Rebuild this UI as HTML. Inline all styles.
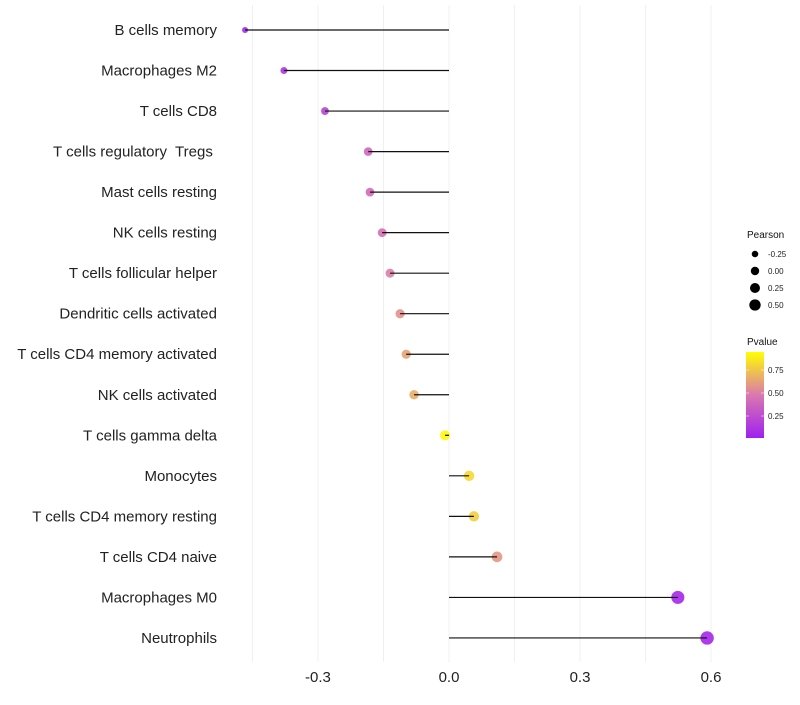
<!DOCTYPE html>
<html><head><meta charset="utf-8"><style>
body{margin:0;background:#fff;width:800px;height:700px;overflow:hidden;font-family:"Liberation Sans",sans-serif}
text{white-space:pre}
</style></head><body>
<svg id="chart" width="800" height="700" xmlns="http://www.w3.org/2000/svg"></svg>
<script>
const categories=["B cells memory","Macrophages M2","T cells CD8","T cells regulatory  Tregs ","Mast cells resting","NK cells resting","T cells follicular helper","Dendritic cells activated","T cells CD4 memory activated","NK cells activated","T cells gamma delta","Monocytes","T cells CD4 memory resting","T cells CD4 naive","Macrophages M0","Neutrophils"];
const pearson=[-0.467,-0.378,-0.284,-0.185,-0.181,-0.153,-0.135,-0.112,-0.098,-0.080,-0.009,0.046,0.057,0.110,0.524,0.591];
const pvalues=[0.05,0.12,0.2,0.4,0.42,0.46,0.52,0.6,0.66,0.7,0.98,0.86,0.82,0.62,0.04,0.04];
const xTicks=[-0.3,0.0,0.3,0.6];
const xTickLabels=["-0.3","0.0","0.3","0.6"];
const sizeLegend=[-0.25,0.00,0.25,0.50];
const colorLegend=[0.25,0.50,0.75];

const svg=document.getElementById('chart');
const NS="http://www.w3.org/2000/svg";
const xS=v=>449+v*436.7;
const yS=i=>30+i*40.53;
const rS=v=>Math.sqrt(Math.max(4,25+34*v));
function lerp(a,b,t){return a.map((x,i)=>Math.round(x+(b[i]-x)*t));}
function col(p){const s=[[160,32,240],[218,120,175],[255,255,0]];
 const c=p<0.5?lerp(s[0],s[1],p/0.5):lerp(s[1],s[2],(p-0.5)/0.5);return `rgb(${c.join(',')})`;}
function mk(tag,attrs,name,inter){const e=document.createElementNS(NS,tag);for(const k in attrs)e.setAttribute(k,attrs[k]);
 
 
 svg.appendChild(e);return e;}
for(let k=-3;k<=4;k++){const v=k*0.15;mk('line',{x1:xS(v),x2:xS(v),y1:5,y2:662,stroke:'#f0f0f0','stroke-width':1},'grid-line',false);}
xTicks.forEach((v,i)=>{const t=mk('text',{x:xS(v),y:682,'text-anchor':'middle','font-size':15,fill:'#222'},'x-tick-label',false);t.textContent=xTickLabels[i];});
categories.forEach((c,i)=>{const t=mk('text',{x:217,y:yS(i)+5,'text-anchor':'end','font-size':15,fill:'#222'},'y-tick-label',false);t.textContent=c;});
categories.forEach((c,i)=>{mk('circle',{cx:xS(pearson[i]),cy:yS(i),r:rS(pearson[i]),fill:col(pvalues[i]),'fill-opacity':0.9},'point',true);});
categories.forEach((c,i)=>{mk('line',{x1:xS(0),x2:xS(pearson[i]),y1:yS(i),y2:yS(i),stroke:'#111','stroke-width':1.2},'segment',false);});
let t=mk('text',{x:747,y:238,'font-size':10,fill:'#111'},'size-legend-title',false);t.textContent="Pearson";
sizeLegend.forEach((v,i)=>{const y=254+i*17;mk('circle',{cx:755,cy:y,r:rS(v)-0.8,fill:'#000'},'size-legend-key',false);
 const l=mk('text',{x:768,y:y+3,'font-size':8,fill:'#222'},'size-legend-label',false);l.textContent=v.toFixed(2);});
t=mk('text',{x:747,y:345,'font-size':10,fill:'#111'},'color-legend-title',false);t.textContent="Pvalue";
const defs=document.createElementNS(NS,'defs');defs.innerHTML='<linearGradient id="g" x1="0" y1="1" x2="0" y2="0"><stop offset="0" stop-color="rgb(160,32,240)"/><stop offset="0.5" stop-color="rgb(218,120,175)"/><stop offset="1" stop-color="rgb(255,255,0)"/></linearGradient>';svg.appendChild(defs);
mk('rect',{x:746,y:352,width:18,height:86,fill:'url(#g)'},'color-bar',false);
colorLegend.forEach(v=>{const y=439-v*92;mk('line',{x1:746,x2:749,y1:y,y2:y,stroke:'#fff','stroke-opacity':0.5},'color-bar-tick',false);mk('line',{x1:761,x2:764,y1:y,y2:y,stroke:'#fff','stroke-opacity':0.5},'color-bar-tick',false);
 const l=mk('text',{x:768,y:y+3,'font-size':8,fill:'#222'},'color-legend-label',false);l.textContent=v.toFixed(2);});
</script>
</body></html>
